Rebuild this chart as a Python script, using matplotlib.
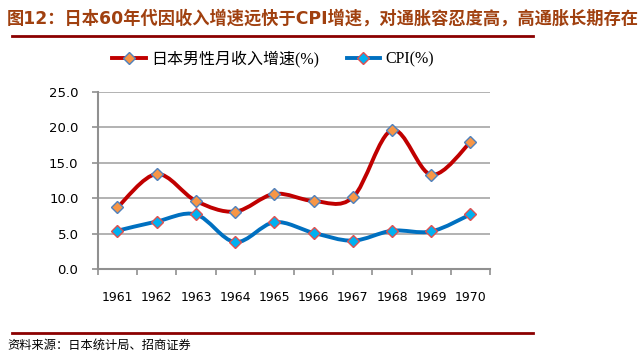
import matplotlib.pyplot as plt
from matplotlib.path import Path
from matplotlib.patches import PathPatch
from matplotlib.lines import Line2D

years = ['1961', '1962', '1963', '1964', '1965', '1966', '1967', '1968', '1969', '1970']
income = [8.7, 13.4, 9.6, 8.1, 10.6, 9.6, 10.1, 19.6, 13.3, 17.9]
cpi = [5.4, 6.7, 7.7, 3.8, 6.6, 5.1, 4.0, 5.4, 5.3, 7.7]
yticks = [0, 5, 10, 15, 20, 25]

plt.rcParams['font.family'] = ['DejaVu Sans', 'Noto Sans CJK SC']


def smooth_path(xs, ys):
    # excel-like smoothed line: cubic bezier segments, catmull-rom control points
    pts = list(zip(xs, ys))
    verts = [pts[0]]
    codes = [Path.MOVETO]
    n = len(pts)
    for i in range(n - 1):
        p0 = pts[i - 1] if i > 0 else pts[i]
        p1 = pts[i]
        p2 = pts[i + 1]
        p3 = pts[i + 2] if i + 2 < n else pts[i + 1]
        c1 = (p1[0] + (p2[0] - p0[0]) / 6, p1[1] + (p2[1] - p0[1]) / 6)
        c2 = (p2[0] - (p3[0] - p1[0]) / 6, p2[1] - (p3[1] - p1[1]) / 6)
        verts += [c1, c2, p2]
        codes += [Path.CURVE4] * 3
    return Path(verts, codes)


fig = plt.figure(figsize=(6.44, 3.63), dpi=100)
ax = fig.add_axes([0.152, 0.259, 0.609, 0.488])
x = list(range(len(years)))

for vals, col, face, edge in [(income, '#C00000', '#F79646', '#4F81BD'),
                              (cpi, '#0070C0', '#00B0F0', '#E05050')]:
    ax.add_patch(PathPatch(smooth_path(x, vals), facecolor='none', edgecolor=col,
                           lw=2.8, capstyle='round', zorder=3))
    ax.plot(x, vals, ls='none', marker='D', ms=6, mfc=face, mec=edge, mew=1.0, zorder=4)

ax.set_xlim(-0.5, 9.5)
ax.set_ylim(0, 25)
ax.set_yticks(yticks)
ax.set_yticklabels(['%.1f' % v for v in yticks], fontsize=9.5)
ax.set_xticks(x)
ax.set_xticklabels(years, fontsize=9)
ax.set_xticks([i - 0.5 for i in range(11)], minor=True)
ax.tick_params(axis='x', which='major', length=0, pad=16)
ax.tick_params(axis='x', which='minor', length=4, color='#909090', width=1.2, direction='out')
ax.tick_params(axis='y', length=4, color='#909090', width=1.2, pad=10)
ax.grid(axis='y', color='#A6A6A6', lw=1.2)
ax.set_axisbelow(True)
for s in ['top', 'right']:
    ax.spines[s].set_visible(False)
ax.spines['left'].set_color('#909090')
ax.spines['left'].set_linewidth(1.5)
ax.spines['bottom'].set_color('#909090')
ax.spines['bottom'].set_linewidth(1.5)

h1 = Line2D([], [], color='#C00000', lw=2.8, marker='D', ms=6, mfc='#F79646', mec='#4F81BD')
h2 = Line2D([], [], color='#0070C0', lw=2.8, marker='D', ms=6, mfc='#00B0F0', mec='#E05050')
fig.legend([h1, h2], ['日本男性月收入增速(%)', 'CPI(%)'], loc='center left',
           bbox_to_anchor=(0.152, 0.838), ncol=2, frameon=False, handlelength=2.1,
           columnspacing=1.7, handletextpad=0.35,
           prop={'family': ['Liberation Serif', 'Noto Sans CJK SC'], 'size': 11.5})

fig.text(0.011, 0.95, '图12：日本60年代因收入增速远快于CPI增速，对通胀容忍度高，高通胀长期存在',
         fontsize=12.4, fontweight='bold', color='#A0400F', va='center', ha='left')
fig.add_artist(Line2D([0.019, 0.828], [0.9, 0.9], color='#8B0000', lw=2, transform=fig.transFigure))
fig.add_artist(Line2D([0.019, 0.828], [0.083, 0.083], color='#8B0000', lw=2, transform=fig.transFigure))
fig.text(0.011, 0.048, '资料来源：日本统计局、招商证券', fontsize=8.8, va='center', ha='left')

fig.savefig('out.png', dpi=100)
